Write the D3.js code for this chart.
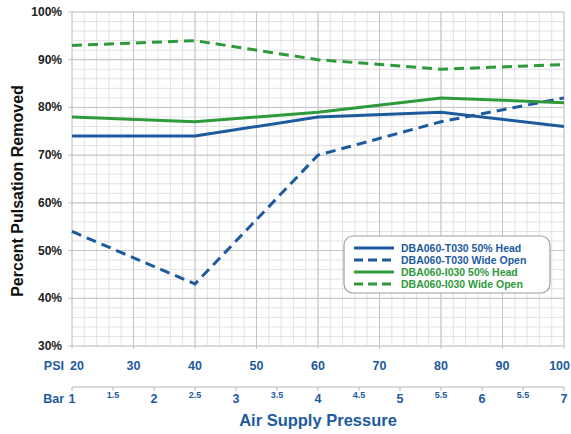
<!DOCTYPE html>
<html>
<head>
<meta charset="utf-8">
<script src="https://cdn.jsdelivr.net/npm/d3@7"></script>
<style>
  body { margin: 0; background: #fff; }
  text { font-family: Arial, "Liberation Sans", sans-serif; font-weight: bold; }
</style>
</head>
<body>
<div id="chart"></div>
<script>
// data
var psi = [20, 40, 60, 80, 100];
var t030Head = [74, 74, 78, 79, 76];
var t030Open = [54, 43, 70, 77, 82];
var i030Head = [78, 77, 79, 82, 81];
var i030Open = [93, 94, 90, 88, 89];
var seriesNames = ["DBA060-T030 50% Head", "DBA060-T030 Wide Open", "DBA060-I030 50% Head", "DBA060-I030 Wide Open"];
var psiTicks = [20, 30, 40, 50, 60, 70, 80, 90, 100];
var barTicks = [1, 1.5, 2, 2.5, 3, 3.5, 4, 4.5, 5, 5.5, 6, 6.5, 7];
// the source chart prints "5.5" where 6.5 should be
var barLabels = ["1", "1.5", "2", "2.5", "3", "3.5", "4", "4.5", "5", "5.5", "6", "5.5", "7"];
var yTicks = [30, 40, 50, 60, 70, 80, 90, 100];

var blue = "#1d5a9e", green = "#2f9a3c";

var margin = {top: 12, right: 7, bottom: 88, left: 72},
    width = 571 - margin.left - margin.right,
    height = 434 - margin.top - margin.bottom;

var svg = d3.select("#chart").append("svg")
    .attr("width", 571)
    .attr("height", 434);
var g = svg.append("g")
    .attr("transform", "translate(" + margin.left + "," + margin.top + ")");

var x = d3.scaleLinear().domain([20, 100]).range([0, width]);
var xBar = d3.scaleLinear().domain([1, 7]).range([0, width]);
var y = d3.scaleLinear().domain([30, 100]).range([height, 0]);

// minor grid
g.append("g").selectAll("line")
    .data(d3.range(20, 100.1, 2))
    .enter().append("line")
    .attr("x1", function (d) { return x(d); })
    .attr("x2", function (d) { return x(d); })
    .attr("y1", 0).attr("y2", height)
    .style("stroke", "#e2e2e2");
g.append("g").selectAll("line")
    .data(d3.range(30, 100.1, 2))
    .enter().append("line")
    .attr("y1", function (d) { return y(d); })
    .attr("y2", function (d) { return y(d); })
    .attr("x1", 0).attr("x2", width)
    .style("stroke", "#e2e2e2");

// major grid
g.append("g").selectAll("line")
    .data(psiTicks)
    .enter().append("line")
    .attr("x1", function (d) { return x(d); })
    .attr("x2", function (d) { return x(d); })
    .attr("y1", 0).attr("y2", height + 3)
    .style("stroke", "#c4c4c4");
g.append("g").selectAll("line")
    .data(yTicks)
    .enter().append("line")
    .attr("y1", function (d) { return y(d); })
    .attr("y2", function (d) { return y(d); })
    .attr("x1", -4).attr("x2", width)
    .style("stroke", "#c4c4c4");

// y labels
g.append("g").selectAll("text")
    .data(yTicks)
    .enter().append("text")
    .attr("x", -10)
    .attr("y", function (d) { return y(d) + 4; })
    .attr("text-anchor", "end")
    .style("font-size", "12px")
    .style("fill", "#222")
    .text(function (d) { return d + "%"; });

svg.append("text")
    .attr("transform", "translate(23," + (margin.top + height / 2 + 12) + ") rotate(-90)")
    .attr("text-anchor", "middle")
    .style("font-size", "16px")
    .style("fill", "#111")
    .text("Percent Pulsation Removed");

// PSI row
var psiY = height + 24;
g.append("text").attr("x", -8).attr("y", psiY)
    .attr("text-anchor", "end").style("font-size", "12.5px").style("fill", blue).text("PSI");
g.append("g").selectAll("text")
    .data(psiTicks)
    .enter().append("text")
    .attr("x", function (d) { return x(d); })
    .attr("y", psiY)
    .attr("text-anchor", function (d) { return d === 20 ? "start" : (d === 100 ? "end" : "middle"); })
    .attr("dx", function (d) { return d === 20 ? -2 : (d === 100 ? 6 : 0); })
    .style("font-size", "12.5px")
    .style("fill", blue)
    .text(function (d) { return d; });

// Bar row
var barLineY = height + 41;
var barAxis = g.append("g").attr("transform", "translate(0," + barLineY + ")");
barAxis.append("line").attr("x1", 0).attr("x2", width).style("stroke", "#b5b5b5");
barAxis.selectAll(".tk").data(barTicks).enter().append("line")
    .attr("class", "tk")
    .attr("x1", function (d) { return xBar(d); })
    .attr("x2", function (d) { return xBar(d); })
    .attr("y1", 0).attr("y2", 4)
    .style("stroke", "#b5b5b5");
barAxis.selectAll("text").data(barTicks).enter().append("text")
    .attr("x", function (d) { return xBar(d); })
    .attr("y", function (d) { return d % 1 === 0 ? 16 : 11; })
    .attr("text-anchor", "middle")
    .style("font-size", function (d) { return d % 1 === 0 ? "12.5px" : "9px"; })
    .style("fill", blue)
    .text(function (d, i) { return barLabels[i]; });
g.append("text").attr("x", -8).attr("y", barLineY + 16)
    .attr("text-anchor", "end").style("font-size", "12.5px").style("fill", blue).text("Bar");

svg.append("text")
    .attr("x", 318).attr("y", 426)
    .attr("text-anchor", "middle")
    .style("font-size", "16.5px")
    .style("fill", blue)
    .text("Air Supply Pressure");

// lines
var series = [
    {vals: t030Head, color: blue, dash: null},
    {vals: t030Open, color: blue, dash: "10,6"},
    {vals: i030Head, color: green, dash: null},
    {vals: i030Open, color: green, dash: "10,6"}
];
var line = d3.line()
    .x(function (d, i) { return x(psi[i]); })
    .y(function (d) { return y(d); });
series.forEach(function (s) {
    g.append("path")
        .datum(s.vals)
        .attr("d", line)
        .style("fill", "none")
        .style("stroke", s.color)
        .style("stroke-width", 3)
        .style("stroke-dasharray", s.dash);
});

// legend
var lg = svg.append("g").attr("transform", "translate(344,236)");
lg.append("rect")
    .attr("width", 206).attr("height", 57)
    .attr("rx", 9).attr("ry", 9)
    .style("fill", "#fff")
    .style("stroke", "#a0a0a0")
    .style("stroke-width", 1.2);
seriesNames.forEach(function (name, i) {
    var yy = 12 + i * 12;
    lg.append("line")
        .attr("x1", 10).attr("x2", 50)
        .attr("y1", yy).attr("y2", yy)
        .style("stroke", series[i].color)
        .style("stroke-width", 3)
        .style("stroke-dasharray", series[i].dash ? "9,5" : null);
    lg.append("text")
        .attr("x", 57).attr("y", yy + 4)
        .style("font-size", "10.5px")
        .style("fill", series[i].color)
        .text(name);
});
</script>
</body>
</html>
